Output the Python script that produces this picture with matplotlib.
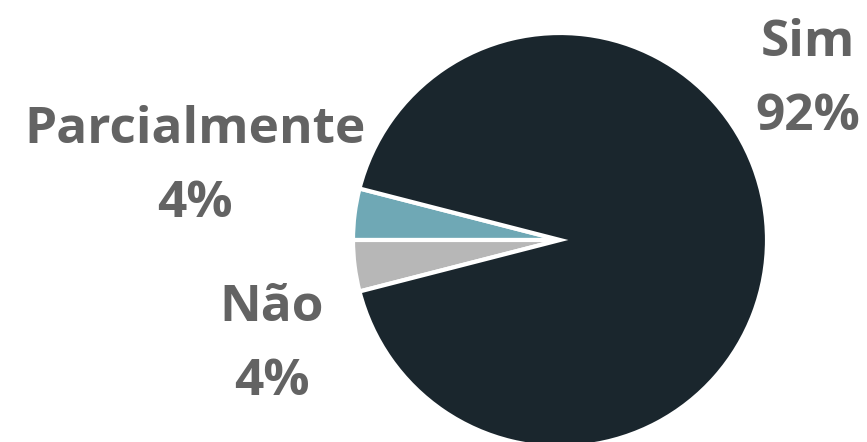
import matplotlib
matplotlib.use("Agg")
import matplotlib.pyplot as plt

# dados
categorias = ["Parcialmente", "Não", "Sim"]
percentuais = [4, 4, 92]
cores = ["#6fa8b5", "#b7b7b7", "#1a262d"]

plt.rcParams['font.family'] = ['Open Sans', 'DejaVu Sans']

W, H = 867, 442
fig = plt.figure(figsize=(W / 100, H / 100), dpi=100)

# pizza: centro ~(560, 240) px, raio ~207 px
cx, cy, r = 560, 240, 207
ax = fig.add_axes([(cx - r) / W, (H - cy - r) / H, 2 * r / W, 2 * r / H])
wedges, _ = ax.pie(percentuais, colors=cores, startangle=180 - 360 * 0.04,
                   counterclock=True, radius=1,
                   wedgeprops=dict(edgecolor="white", linewidth=3))
for w in wedges:
    w.set_clip_on(False)
ax.set_xlim(-1, 1)
ax.set_ylim(-1, 1)
ax.set_aspect("equal")
ax.axis("off")

# rótulos
posicoes = {"Sim": (808, 80), "Parcialmente": (195, 167), "Não": (272, 345)}
for cat, pct in zip(categorias, percentuais):
    x, y = posicoes[cat]
    fig.text(x / W, 1 - y / H, f"{cat}\n{pct}%", ha="center", va="center",
             fontsize=37, fontweight="bold", color="#636363", linespacing=1.62)

fig.savefig("out.png", dpi=100)
